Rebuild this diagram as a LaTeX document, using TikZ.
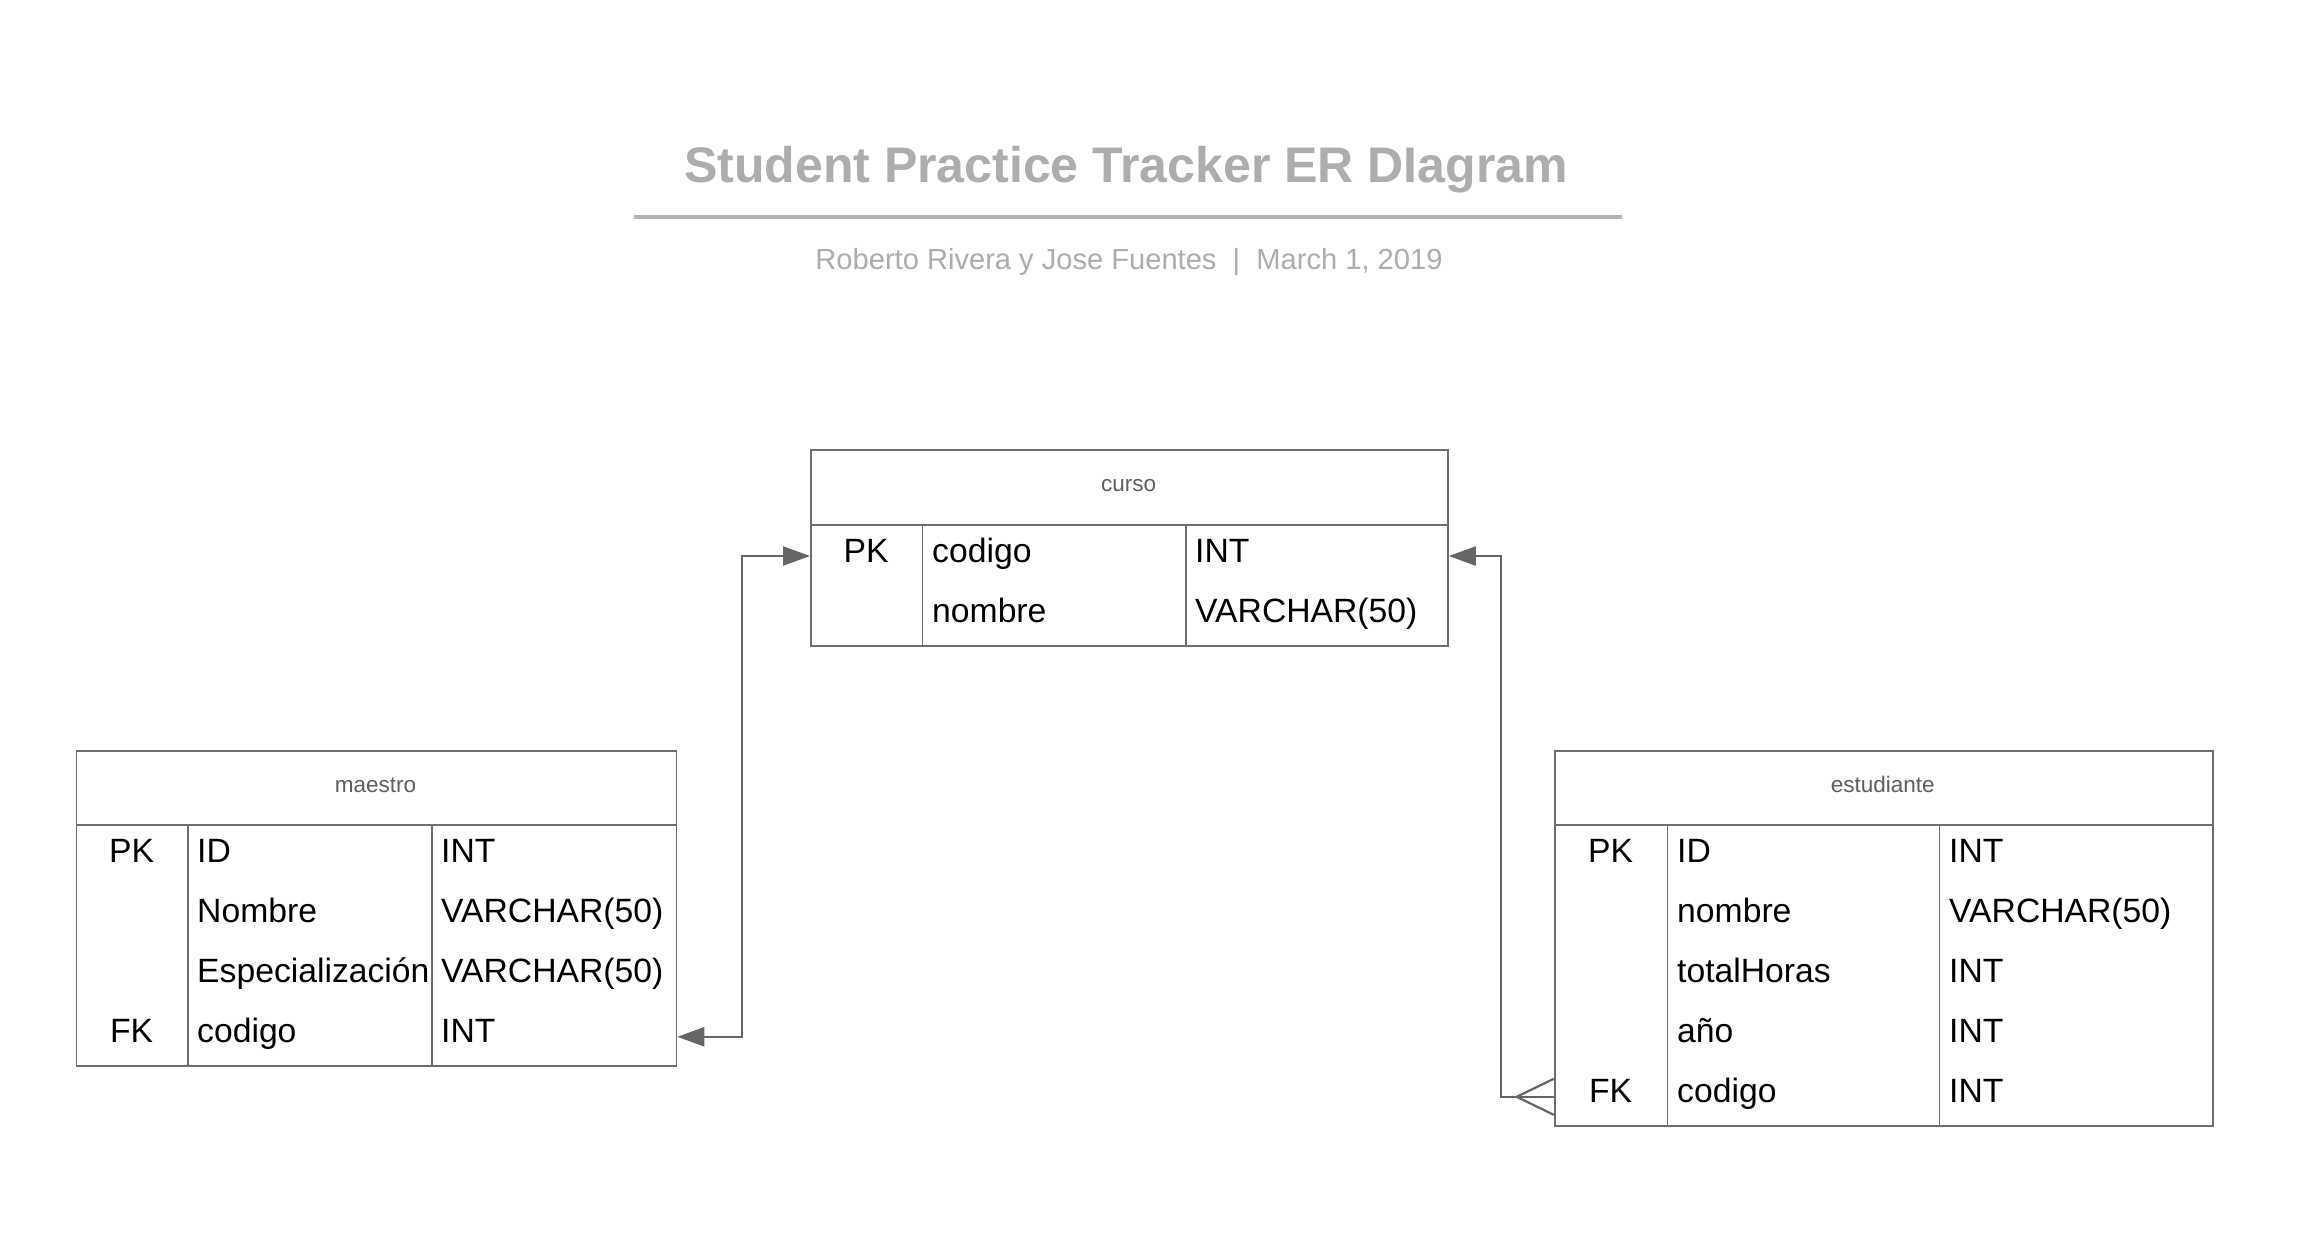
\documentclass[tikz,border=0pt]{standalone}
\usepackage{fontspec}
\setmainfont{Liberation Sans}
\usetikzlibrary{arrows.meta}
\definecolor{titlegray}{HTML}{ADADAD}
\definecolor{rulegray}{HTML}{B3B3B3}
\definecolor{linegray}{HTML}{6E6E6E}
\definecolor{conngray}{HTML}{666666}
\definecolor{headgray}{HTML}{5E5E5E}
\tikzset{
  tbl/.style={draw=linegray, line width=1.8pt, inner sep=0pt, anchor=north west},
  tline/.style={draw=linegray, line width=1.8pt},
  cell/.style={inner sep=0pt, anchor=base west, font=\fontsize{33.7}{40}\selectfont, text=black},
  keycell/.style={inner sep=0pt, anchor=base, font=\fontsize{33.7}{40}\selectfont, text=black},
  headtxt/.style={inner sep=0pt, anchor=base, font=\fontsize{22.5}{27}\selectfont, text=headgray},
  conn/.style={draw=conngray, line width=2.2pt},
  tri/.tip={Triangle[length=27pt,width=19pt,fill=conngray]}
}
\begin{document}
\begin{tikzpicture}[x=1pt,y=-1pt]
\useasboundingbox[fill=white] (0,0) rectangle (2318,1253);

% title
\node[inner sep=0pt, anchor=base, text=titlegray, font=\fontsize{50}{60}\selectfont\bfseries] (title) at (1126,182) {Student Practice Tracker ER DIagram};
\draw[rulegray, line width=4pt] (634,217) coordinate (r1) -- (1622,217) coordinate (r2);
\node[inner sep=0pt, anchor=base, text=titlegray, font=\fontsize{29.1}{35}\selectfont] (subtitle) at (1129,269) {Roberto Rivera y Jose Fuentes\ \ |\ \ March 1, 2019};

% ---------- curso ----------
\node[tbl, minimum width=637pt, minimum height=196pt] (curso) at (810,449) {};
\draw[tline] (810,525) -- (1447,525);
\draw[tline] (922.5,525) -- (922.5,645);
\draw[tline] (1185.6,525) -- (1185.6,645);
\node[headtxt] (cursoH) at (1128.5,491) {curso};
\node[keycell] (cPK) at (866,562) {PK};
\node[cell] (c1a) at (932,562) {codigo};
\node[cell] (c1b) at (1195,562) {INT};
\node[cell] (c2a) at (932,622) {nombre};
\node[cell] (c2b) at (1195,622) {VARCHAR(50)};

% ---------- maestro ----------
\node[tbl, minimum width=600pt, minimum height=315pt] (maestro) at (75.5,750) {};
\draw[tline] (75.5,825) -- (675.5,825);
\draw[tline] (187.7,825) -- (187.7,1065);
\draw[tline] (431.7,825) -- (431.7,1065);
\node[headtxt] (maestroH) at (375.5,792) {maestro};
\node[keycell] (mPK) at (131.6,862) {PK};
\node[cell] (m1a) at (197,862) {ID};
\node[cell] (m1b) at (441,862) {INT};
\node[cell] (m2a) at (197,922) {Nombre};
\node[cell] (m2b) at (441,922) {VARCHAR(50)};
\node[cell] (m3a) at (197,982) {Especialización};
\node[cell] (m3b) at (441,982) {VARCHAR(50)};
\node[keycell] (mFK) at (131.6,1042) {FK};
\node[cell] (m4a) at (197,1042) {codigo};
\node[cell] (m4b) at (441,1042) {INT};

% ---------- estudiante ----------
\node[tbl, minimum width=658pt, minimum height=375pt] (est) at (1553.7,750) {};
\draw[tline] (1553.7,825) -- (2211.7,825);
\draw[tline] (1667.5,825) -- (1667.5,1125);
\draw[tline] (1939.5,825) -- (1939.5,1125);
\node[headtxt] (estH) at (1882.7,792) {estudiante};
\node[keycell] (ePK) at (1610.6,862) {PK};
\node[cell] (e1a) at (1677,862) {ID};
\node[cell] (e1b) at (1949,862) {INT};
\node[cell] (e2a) at (1677,922) {nombre};
\node[cell] (e2b) at (1949,922) {VARCHAR(50)};
\node[cell] (e3a) at (1677,982) {totalHoras};
\node[cell] (e3b) at (1949,982) {INT};
\node[cell] (e4a) at (1677,1042) {año};
\node[cell] (e4b) at (1949,1042) {INT};
\node[keycell] (eFK) at (1610.6,1102) {FK};
\node[cell] (e5a) at (1677,1102) {codigo};
\node[cell] (e5b) at (1949,1102) {INT};

% ---------- connectors ----------
\draw[conn, {tri}-{tri}] ([yshift=30pt]maestro.south east) -| ([xshift=-68pt,yshift=-107pt]curso.north west) -- ([yshift=-107pt]curso.north west);
\draw[conn, {tri}-] ([yshift=-107pt]curso.north east) -| ([xshift=-53pt,yshift=30pt]est.south west) -- ([yshift=30pt]est.south west);
% crow's foot
\coordinate (fork) at ([xshift=-37pt,yshift=30pt]est.south west);
\draw[conn] (fork) -- ([yshift=48pt]est.south west);
\draw[conn] (fork) -- ([yshift=12pt]est.south west);
\end{tikzpicture}
\end{document}
